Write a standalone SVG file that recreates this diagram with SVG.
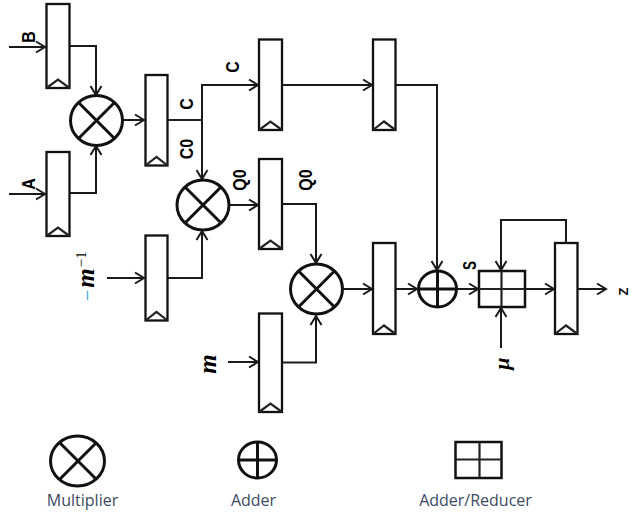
<svg xmlns="http://www.w3.org/2000/svg" width="632" height="519" viewBox="0 0 632 519">
<style>
.b{fill:#fff;stroke:#111;stroke-width:2.300;stroke-linejoin:miter}
.s{fill:none;stroke:#111;stroke-width:3}
.g{fill:none;stroke:#111;stroke-width:2.500}
.f{fill:none;stroke:#222;stroke-width:2.200}
.w{fill:none;stroke:#1a1a1a;stroke-width:2;marker-end:url(#a)}
.l{font:bold 16px "Liberation Sans",Arial,sans-serif;fill:#000;text-anchor:middle}
.m{font:italic bold 25px "Liberation Serif","DejaVu Serif",serif;fill:#000;text-anchor:middle}
.t{font:16px "Open Sans","Liberation Sans",sans-serif;fill:#3c4a63;text-anchor:middle}
</style>
<defs>
<marker id="a" markerUnits="userSpaceOnUse" markerWidth="12" markerHeight="14" refX="10.500" refY="7" orient="auto"><path d="M1.500 1.500L10.500 7L1.500 12.500" fill="none" stroke="#1a1a1a" stroke-width="2"/></marker>
<g id="x"><ellipse rx="26" ry="25" class="s"/><path d="M-18-18L18 18M18-18L-18 18" class="s"/></g>
<g id="p"><ellipse rx="19" ry="18" class="s"/><path d="M-19 0H19M0-18V18" class="s"/></g>
</defs>
<g id="connectors">
<path class="w" d="M9 47H45"/>
<path class="w" d="M9 194H45"/>
<path class="w" d="M70 46H96V95"/>
<path class="w" d="M70 193H96V146"/>
<path class="w" d="M123 120H144"/>
<path class="f" d="M168 120H202"/>
<path class="w" d="M202 120V85H258"/>
<path class="w" d="M202 120V179"/>
<path class="w" d="M229 205H258"/>
<path class="w" d="M282 204H316V263"/>
<path class="w" d="M107 278H144"/>
<path class="w" d="M168 278H202V231"/>
<path class="w" d="M228 362H258"/>
<path class="w" d="M282 362.500H316V316"/>
<path class="w" d="M344 289H372"/>
<path class="w" d="M395 289H417"/>
<path class="w" d="M283 85H372"/>
<path class="w" d="M395 85H437V270"/>
<path class="w" d="M457 289H478"/>
<path class="w" d="M525 289H554"/>
<path class="w" d="M501 348V308"/>
<path class="w" d="M566 243V220H501V270"/>
<path class="w" d="M577 289H606"/>
</g>
<g id="reg-b"><rect class="b" x="46.500" y="4" width="23" height="84"/><path class="f" d="M46.500 88L58 79.500L69.500 88"/></g>
<g id="reg-a"><rect class="b" x="46.500" y="152" width="23" height="84"/><path class="f" d="M46.500 236L58 227.500L69.500 236"/></g>
<g id="reg-c0"><rect class="b" x="145.500" y="75" width="22" height="90.500"/><path class="f" d="M145.500 165.500L156.500 157L167.500 165.500"/></g>
<g id="reg-c"><rect class="b" x="259" y="39.500" width="23" height="90.500"/><path class="f" d="M259 130L270.500 121.500L282 130"/></g>
<g id="reg-c2"><rect class="b" x="373" y="39.500" width="22.500" height="90.500"/><path class="f" d="M373 130L384 121.500L395.500 130"/></g>
<g id="reg-q0"><rect class="b" x="259" y="159" width="23" height="90"/><path class="f" d="M259 249L270.500 240.500L282 249"/></g>
<g id="reg-minv"><rect class="b" x="145.500" y="235.500" width="22" height="85"/><path class="f" d="M145.500 320.500L156.500 312L167.500 320.500"/></g>
<g id="reg-m"><rect class="b" x="259" y="313.500" width="23" height="98.500"/><path class="f" d="M259 412L270.500 403.500L282 412"/></g>
<g id="reg-p"><rect class="b" x="373" y="243" width="22.500" height="91"/><path class="f" d="M373 334L384 325.500L395.500 334"/></g>
<g id="reg-z"><rect class="b" x="555" y="243" width="22.500" height="91"/><path class="f" d="M555 334L566 325.500L577.500 334"/></g>
<g id="mul1"><use href="#x" x="96.500" y="120.500"/></g>
<g id="mul2"><use href="#x" x="203" y="205"/></g>
<g id="mul3"><use href="#x" x="316.500" y="289"/></g>
<g id="add1"><use href="#p" x="437.500" y="289"/></g>
<g id="addred"><rect class="g" x="479" y="271" width="46" height="36"/><path class="f" d="M479 289H525M501.500 271V307"/></g>
<g id="labels">
<text class="l" transform="translate(34.500 37) rotate(-90) scale(1 1.200)">B</text>
<text class="l" transform="translate(34.500 184) rotate(-90) scale(1 1.200)">A</text>
<text class="l" transform="translate(238.500 67) rotate(-90) scale(1 1.200)">C</text>
<text class="l" transform="translate(192.500 104) rotate(-90) scale(1 1.200)">C</text>
<text class="l" transform="translate(192.500 149) rotate(-90) scale(1 1.200)">C0</text>
<text class="l" transform="translate(245.500 180) rotate(-90) scale(1 1.200)">Q0</text>
<text class="l" transform="translate(312 180) rotate(-90) scale(1 1.200)">Q0</text>
<text class="l" transform="translate(475.500 265.500) rotate(-90) scale(1 1.300)" style="font-size:13.500px">S</text>
<text class="l" transform="translate(628 291.500) rotate(-90)" style="font-size:13px">Z</text>
<text transform="translate(94 301) rotate(-90)" style="font:italic bold 25px 'Liberation Serif',serif"><tspan fill="#1a9bc9" font-style="normal" font-weight="400" font-size="20">−</tspan><tspan dx="2">m</tspan><tspan dy="-8" dx="1" font-size="15" font-weight="400" font-style="normal">−1</tspan></text>
<text class="m" transform="translate(216 364) rotate(-90)">m</text>
<text class="m" transform="translate(509 363.500) rotate(-90)" style="font-size:22px">μ</text>
</g>
<g id="legend">
<g id="leg-mul"><ellipse cx="77.500" cy="461" rx="27" ry="25" class="s"/><path class="s" d="M60 443L96 479M96 443L60 479"/><text class="t" x="82.500" y="506">Multiplier</text></g>
<g id="leg-add"><use href="#p" x="257.500" y="460"/><text class="t" x="253.500" y="506">Adder</text></g>
<g id="leg-addred"><rect class="g" x="455.500" y="442" width="46" height="36"/><path class="f" d="M455.500 459.500H501.500M479.500 442V478"/><text class="t" x="475.500" y="506">Adder/Reducer</text></g>
</g>
</svg>
